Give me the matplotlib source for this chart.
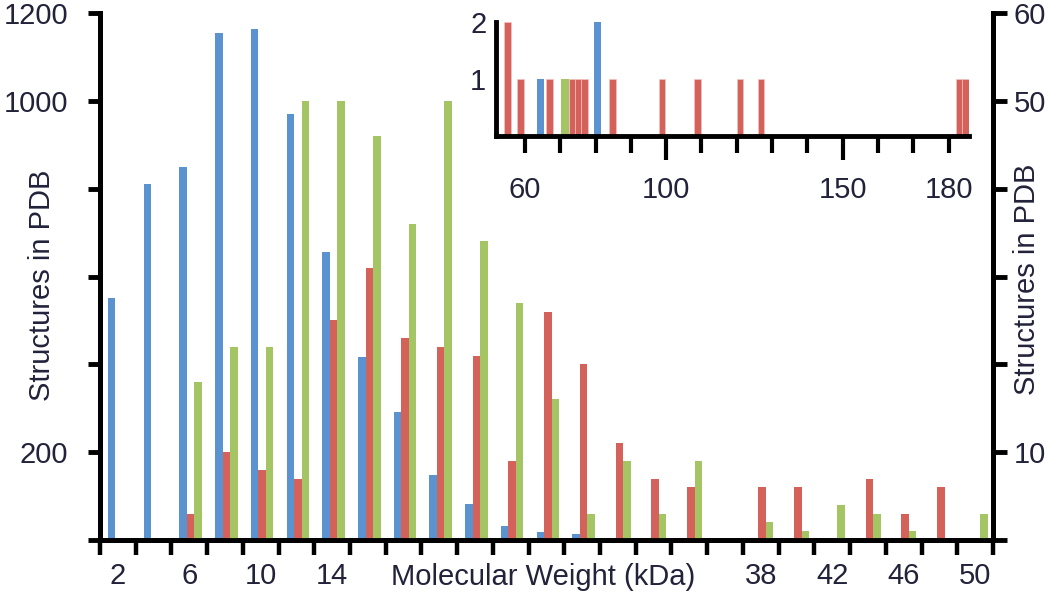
import matplotlib
matplotlib.use("Agg")
import matplotlib.pyplot as plt
import matplotlib.transforms as mtransforms
import numpy as np

plt.rcParams['font.family'] = ['Liberation Sans', 'DejaVu Sans']

# Bins de 2 kDa (etiqueta = limite superior del bin)
mw_bins = [2, 4, 6, 8, 10, 12, 14, 16, 18, 20, 22, 24, 26,
           28, 30, 32, 34, 36, 38, 40, 42, 44, 46, 48, 50]
shown_labels = [2, 6, 10, 14, 38, 42, 46, 50]
axis_title = 'Molecular Weight (kDa)'

# Serie azul (eje izquierdo, 0-1200)
blue_counts = [550, 811, 850, 1155, 1164, 970, 655, 416, 291, 148, 82, 32, 18,
               14, 0, 0, 0, 0, 0, 3, 0, 0, 0, 0, 0]
# Series roja y verde (eje derecho, 0-60)
red_counts = [0, 0, 3, 10, 8, 7, 25, 31, 23, 22, 21, 9, 26,
              20, 11, 7, 6, 0, 6, 6, 0, 7, 3, 6, 0]
green_counts = [0, 0, 18, 22, 22, 50, 50, 46, 36, 50, 34, 27, 16,
                3, 9, 3, 9, 0, 2, 1, 4, 3, 1, 0, 3]

left_ticks = [0, 200, 400, 600, 800, 1000, 1200]
left_labels = ['', '200', '', '', '', '1000', '1200']
right_ticks = [0, 10, 20, 30, 40, 50, 60]
right_labels = ['', '10', '', '', '', '50', '60']

# Recuadro: estructuras grandes (kDa)
inset_red_kda = [55.0, 58.8, 66.9, 73.3, 75.0, 76.9, 84.8, 98.8, 108.9, 120.9, 126.9, 183.0, 184.8]
inset_red_n = [2, 1, 1, 1, 1, 1, 1, 1, 1, 1, 1, 1, 1]
inset_blue_kda = [64.4, 80.5]
inset_blue_n = [1, 2]
inset_green_kda = [71.3]
inset_green_n = [1]
inset_tick_labels = [60, 100, 150, 180]

BLUE = '#5a93cf'
RED = '#d4625b'
GREEN = '#a5c464'
TXT = '#22223a'
FS = 21

fig = plt.figure(figsize=(10.5, 5.94), dpi=100)
ax = fig.add_axes([0.0952, 0.0909, 0.8505, 0.8872])
ax2 = ax.twinx()

x = np.arange(len(mw_bins))
w = 0.21
shift = 0.04
ax.bar(x - w + shift, blue_counts, width=w, color=BLUE, zorder=2)
ax2.bar(x + shift, red_counts, width=w, color=RED, zorder=2)
ax2.bar(x + w + shift, green_counts, width=w, color=GREEN, zorder=2)

ax.set_xlim(-0.5, len(mw_bins) - 0.5)
ax.set_ylim(0, 1200)
ax2.set_ylim(0, 60)

# ejes
for a in (ax, ax2):
    a.spines['top'].set_visible(False)
    for s in ('left', 'right', 'bottom'):
        a.spines[s].set_linewidth(3.5)
        a.spines[s].set_color('black')

ax.set_xticks(np.arange(len(mw_bins) + 1) - 0.5)
ax.set_xticklabels([])
ax.tick_params(axis='x', which='major', direction='out', length=11, width=3.2, color='black')
lab_pos = [mw_bins.index(v) for v in shown_labels]
ax.set_xticks(lab_pos, minor=True)
ax.set_xticklabels([str(v) for v in shown_labels], minor=True)
ax.tick_params(axis='x', which='minor', length=0, pad=16, labelsize=FS, labelcolor=TXT)

ax.set_yticks(left_ticks)
ax.set_yticklabels(left_labels)
ax.tick_params(axis='y', direction='out', length=9, width=3.5, pad=14, labelsize=FS,
               labelcolor=TXT, color='black')
ax2.set_yticks(right_ticks)
ax2.set_yticklabels(right_labels)
ax2.tick_params(axis='y', direction='out', length=10, width=3.5, pad=5, labelsize=FS,
                labelcolor=TXT, color='black')

trans = mtransforms.blended_transform_factory(ax.transData, ax.transAxes)
ax.text(11.9, -0.071, axis_title, transform=trans, ha='center', va='center',
        fontsize=FS, color=TXT)

ax.set_ylabel('Structures in PDB', fontsize=FS, color=TXT)
ax.yaxis.set_label_coords(-0.049, 0.484)
ax2.set_ylabel('Structures in PDB', fontsize=FS, color=TXT, rotation=90)
ax2.yaxis.set_label_coords(1.022, 0.495)

# recuadro
axi = fig.add_axes([0.4724, 0.771, 0.4505, 0.1919])
axi.set_facecolor('none')
bw = 1.85
axi.bar(inset_red_kda, inset_red_n, width=bw, color=RED, edgecolor='#f2c9c6', linewidth=0.4)
axi.bar(inset_blue_kda, inset_blue_n, width=bw, color=BLUE)
axi.bar(inset_green_kda, inset_green_n, width=2.2, color=GREEN)
axi.set_xlim(51.8, 185.8)
axi.set_ylim(0, 2)
for s in ('top', 'right'):
    axi.spines[s].set_visible(False)
for s in ('left', 'bottom'):
    axi.spines[s].set_linewidth(3.5)
axi.set_xticks([100, 150])
axi.set_xticks([60, 70, 80, 90, 110, 120, 130, 140, 160, 170, 180], minor=True)
axi.tick_params(axis='x', which='major', length=17, width=3, labelbottom=False)
axi.tick_params(axis='x', which='minor', length=12, width=3)
axi.set_yticks([1, 2])
axi.set_yticklabels(['1', '2'])
axi.tick_params(axis='y', length=0, pad=7, labelsize=FS, labelcolor=TXT)
itrans = mtransforms.blended_transform_factory(axi.transData, axi.transAxes)
for v in inset_tick_labels:
    axi.text(v, -0.47, str(v), transform=itrans, ha='center', va='center',
             fontsize=FS, color=TXT)

fig.savefig('out.png', dpi=100)
